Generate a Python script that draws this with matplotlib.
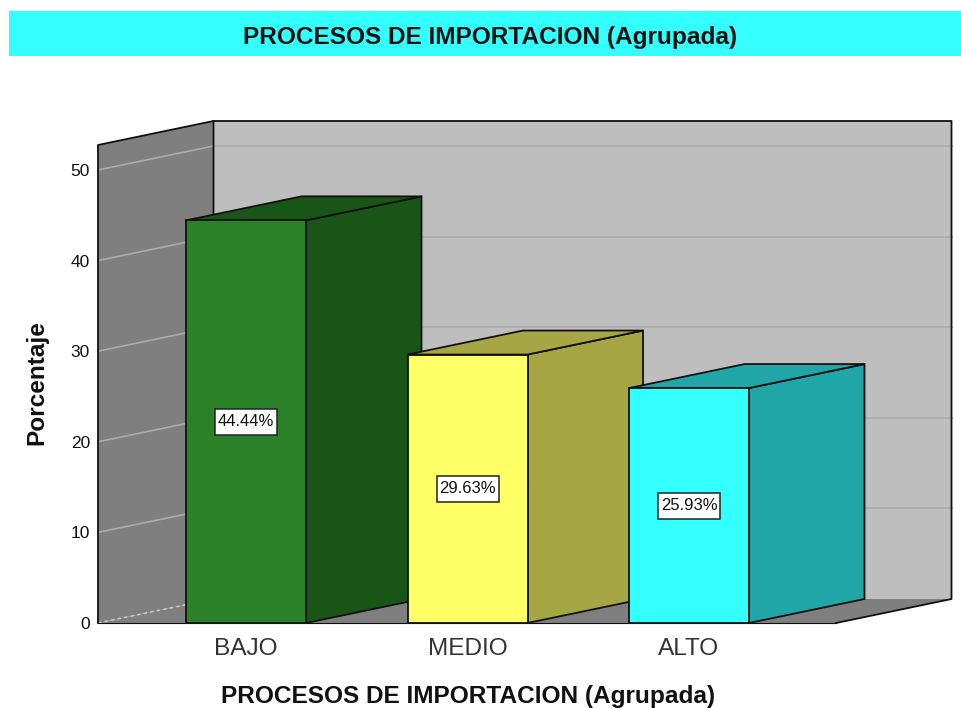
import matplotlib
matplotlib.use("Agg")
import matplotlib.pyplot as plt
from matplotlib.patches import Polygon, Rectangle

plt.rcParams['font.family'] = ['Liberation Sans', 'DejaVu Sans']

categories = ["BAJO", "MEDIO", "ALTO"]
values = [44.44, 29.63, 25.93]
labels = ["44.44%", "29.63%", "25.93%"]
front_colors = ["#2A8128", "#FFFF66", "#33FFFF"]
side_colors = ["#1A5518", "#A6A645", "#20A6A6"]
y_ticks = [0, 10, 20, 30, 40, 50]
title = "PROCESOS DE IMPORTACION (Agrupada)"

# pixel geometry of the reference
W, H = 961, 708
PX_PER_CAT = 221.5
PX_PER_VAL = 9.06
X0_PX = 246
Y0_PX = 623

def xd(px):
    return (px - X0_PX) / PX_PER_CAT

def yd(py):
    return (Y0_PX - py) / PX_PER_VAL

fig = plt.figure(figsize=(W / 100, H / 100), dpi=100)
ax = fig.add_axes([0, 0, 1, 1])
ax.set_xlim(xd(0), xd(W))
ax.set_ylim(yd(H), yd(0))

bar_w = 120 / PX_PER_CAT
dx = 115.5 / PX_PER_CAT
dy = 24 / PX_PER_VAL
left = xd(98)
top = yd(145)
right = xd(836)
box_w = 62 / PX_PER_CAT
box_h = 26 / PX_PER_VAL

# header band
ax.add_patch(Rectangle((xd(9), yd(56)), xd(961) - xd(9), yd(11) - yd(56), fc="#33FFFF", ec="none"))
ax.text(xd(490.5), yd(37), title, ha="center", va="center", fontsize=17.6, fontweight="bold", color="#111111")

# walls and floor
ax.add_patch(Polygon([(left + dx, dy), (right + dx, dy), (right + dx, top + dy), (left + dx, top + dy)],
                     fc="#BEBEBE", ec="none", zorder=1))
ax.add_patch(Polygon([(left, 0), (left + dx, dy), (left + dx, top + dy), (left, top)],
                     fc="#7F7F7F", ec="none", zorder=1))
ax.add_patch(Polygon([(left, 0), (left + dx, dy), (right + dx, dy), (right, 0)],
                     fc="#7F7F7F", ec="none", zorder=1))

# gridlines
for t in y_ticks[1:]:
    ax.plot([left, left + dx], [t, t + dy], color="#ABABAB", lw=1.2, zorder=2)
    ax.plot([left + dx, right + dx], [t + dy, t + dy], color="#ABABAB", lw=1.2, zorder=2)
ax.plot([left, left + dx], [0, dy], color="#C8C8C8", lw=1.2, ls=(0, (2, 2)), zorder=2)

# wall outline
ax.plot([left + dx, left + dx, right + dx, right + dx, right], [dy, top + dy, top + dy, dy, 0],
        color="#111111", lw=1.3, zorder=2)
ax.plot([left, left, left + dx], [0, top, top + dy], color="#111111", lw=1.3, zorder=2)

# bars
for i, v in enumerate(values):
    x1 = i - bar_w / 2
    x2 = i + bar_w / 2
    ax.add_patch(Polygon([(x2, 0), (x2 + dx, dy), (x2 + dx, v + dy), (x2, v)],
                         fc=side_colors[i], ec="#111111", lw=1.3, zorder=3))
    ax.add_patch(Polygon([(x1, v), (x1 + dx, v + dy), (x2 + dx, v + dy), (x2, v)],
                         fc=side_colors[i], ec="#111111", lw=1.3, zorder=3))
    ax.bar(i, v, width=bar_w, color=front_colors[i], edgecolor="#111111", linewidth=1.3, zorder=4)
    ax.add_patch(Rectangle((i - box_w / 2, v / 2 - box_h / 2), box_w, box_h, fc="white", ec="#222222", lw=1.1, zorder=5))
    ax.text(i, v / 2, labels[i], ha="center", va="center", fontsize=12, color="#111111", zorder=6)

# axes
for s in ["top", "right", "left"]:
    ax.spines[s].set_visible(False)
ax.spines["bottom"].set_position(("data", 0))
ax.spines["bottom"].set_bounds(left, right)
ax.spines["bottom"].set_color("#111111")
ax.spines["bottom"].set_zorder(6)
ax.yaxis.set_ticks_position("left")
ax.set_yticks(y_ticks)
ax.tick_params(axis="y", length=0, labelsize=12.5, pad=-64.8, labelcolor="#111111")
ax.set_xticks(range(len(categories)))
ax.set_xticklabels(categories, fontsize=17.6, color="#333333", fontweight="light")
ax.tick_params(axis="x", length=0, pad=10.5)

ax.text(xd(37), yd(383), "Porcentaje", rotation=90, ha="center", va="center", fontsize=17.6, fontweight="bold", color="#111111")
ax.text(xd(468), yd(696), title, ha="center", va="center", fontsize=17.6, fontweight="bold", color="#111111")

fig.savefig("out.png", dpi=100)
